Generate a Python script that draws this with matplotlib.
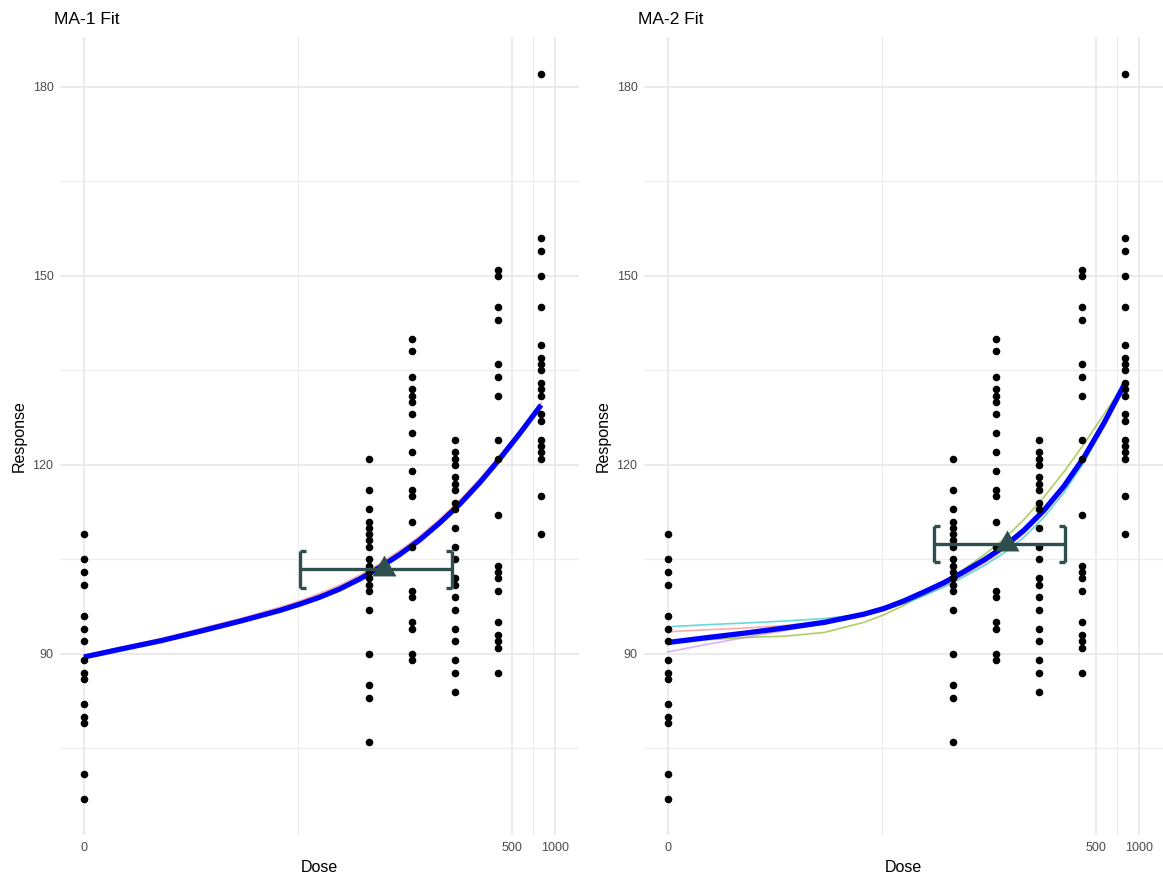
import numpy as np
import matplotlib
matplotlib.use("Agg")
import matplotlib.pyplot as plt
from matplotlib.path import Path

plt.rcParams['font.family'] = ['Liberation Sans', 'DejaVu Sans']

# ---------------- data ----------------
doses = [0, 50, 100, 200, 400, 800]
resp_0 = [109, 105, 103, 101, 96, 94, 92, 89, 87, 86, 82, 80, 79, 71, 67]
resp_50 = [121, 116, 113, 111, 110, 109, 108, 107, 105, 104, 103, 102, 101, 100, 97, 90, 85, 83, 76]
resp_100 = [140, 138, 134, 132, 131, 130, 128, 125, 122, 119, 116, 115, 111, 107, 100, 99, 95, 94, 90, 89]
resp_200 = [124, 122, 121, 120, 118, 117, 116, 114, 113, 110, 107, 105, 102, 101, 99, 97, 94, 92, 89, 87, 84]
resp_400 = [151, 150, 145, 143, 136, 134, 131, 124, 121, 112, 104, 103, 102, 100, 95, 93, 92, 91, 87]
resp_800 = [182, 156, 154, 150, 145, 139, 137, 136, 135, 133, 132, 131, 128, 127, 124, 123, 122, 121, 115, 109]
responses = [resp_0, resp_50, resp_100, resp_200, resp_400, resp_800]

curve_dose = [0, 0.6, 1.6, 3.2, 6.2, 11.8, 16.3, 22.5, 31, 43, 59, 82, 113, 156, 216, 298, 412, 568, 800]

# MA-1 fit
ma1_avg = [89.5, 90.7, 92.1, 93.6, 95.2, 96.9, 97.9, 99.0, 100.3, 101.9, 103.7, 105.8, 108.1,
           110.8, 113.8, 117.2, 121.0, 125.0, 129.5]
ma1_m1 = [89.7, 91.0, 92.4, 94.0, 95.6, 97.4, 98.4, 99.6, 100.9, 102.5, 104.3, 106.4, 108.7,
          111.4, 114.4, 117.8, 121.5, 125.4, 129.8]

# MA-2 fit
ma2_avg = [91.8, 92.5, 93.3, 94.1, 95.0, 96.3, 97.2, 98.4, 99.8, 101.3, 103.0, 104.9, 107.0,
           109.6, 112.8, 116.6, 121.2, 126.6, 133.0]
ma2_cyan = [94.3, 94.6, 94.9, 95.2, 95.6, 96.3, 97.0, 98.0, 99.2, 100.6, 102.2, 104.0, 106.0,
            108.5, 111.7, 115.6, 120.4, 126.1, 133.2]
ma2_red = [93.5, 93.8, 94.1, 94.5, 95.1, 96.1, 96.9, 98.0, 99.3, 100.8, 102.5, 104.4, 106.5,
           109.1, 112.3, 116.2, 120.8, 126.3, 133.0]
ma2_green = [91.6, 92.2, 92.6, 92.8, 93.4, 95.0, 96.2, 97.7, 99.4, 101.3, 103.4, 105.7, 108.2,
             111.3, 114.9, 118.9, 123.3, 128.0, 133.0]
ma2_purple = [90.3, 91.4, 92.6, 93.7, 94.8, 96.2, 97.1, 98.3, 99.7, 101.2, 102.9, 104.8, 106.9,
              109.5, 112.7, 116.5, 121.1, 126.5, 133.0]

# BMD estimates (x = BMD, lower, upper ; y)
bmd1 = dict(x=63.8, lo=16.2, hi=189.0, y=103.4)
bmd2 = dict(x=118.0, lo=36.7, hi=303.0, y=107.4)

titles = ["MA-1 Fit", "MA-2 Fit"]
x_ticks = [0, 500, 1000]
x_tick_labels = ["0", "500", "1000"]
y_ticks = [90, 120, 150, 180]
y_minor = [75, 105, 135, 165]

# ---------------- figure ----------------
W, H = 1163, 880
fig = plt.figure(figsize=(W / 100, H / 100), dpi=100)

ax_w = 518.1 / W
ax_h = 798 / H
ax_b = 45 / H
axes = [fig.add_axes([60.4 / W, ax_b, ax_w, ax_h]),
        fig.add_axes([644.4 / W, ax_b, ax_w, ax_h])]

t_lo, t_hi = -0.38, 7.981
tmaj = np.arcsinh(np.array(x_ticks, float))
x_minor = np.sinh((tmaj[:-1] + tmaj[1:]) / 2)

ebar_col = '#2F4F4F'
tri = Path([(0, 1), (-0.866, -0.5), (0.866, -0.5), (0, 1)],
           [Path.MOVETO, Path.LINETO, Path.LINETO, Path.CLOSEPOLY])
cap_r = Path([(0, 0), (1, 0)], [Path.MOVETO, Path.LINETO])
cap_l = Path([(0, 0), (-1, 0)], [Path.MOVETO, Path.LINETO])


def draw_bmd(ax, b):
    ax.hlines(b['y'], b['lo'], b['hi'], color=ebar_col, lw=2.4, zorder=6)
    ax.vlines([b['lo'], b['hi']], b['y'] - 2.9, b['y'] + 2.9, color=ebar_col, lw=2.4, zorder=6)
    for yy in (b['y'] - 2.9, b['y'] + 2.9):
        ax.plot([b['lo']], [yy], marker=cap_r, ms=8, mew=2.4, color=ebar_col, zorder=6)
        ax.plot([b['hi']], [yy], marker=cap_l, ms=8, mew=2.4, color=ebar_col, zorder=6)
    ax.plot([b['x']], [b['y']], marker=tri, ms=20, color=ebar_col, mew=0, zorder=7)


for i, ax in enumerate(axes):
    ax.set_xscale('asinh', linear_width=1.0)
    ax.set_xlim(np.sinh(t_lo), np.sinh(t_hi))
    ax.set_ylim(61.25, 187.9)
    ax.set_xticks(x_ticks)
    ax.set_xticklabels(x_tick_labels)
    ax.set_xticks(x_minor, minor=True)
    ax.set_xticklabels([], minor=True)
    ax.set_yticks(y_ticks)
    ax.set_yticklabels([str(v) for v in y_ticks])
    ax.set_yticks(y_minor, minor=True)
    ax.grid(which='major', color='#E6E6E6', lw=1.1, zorder=0)
    ax.grid(which='minor', color='#EDEDED', lw=0.9, zorder=0)
    ax.set_axisbelow(True)
    for s in ax.spines.values():
        s.set_visible(False)
    ax.tick_params(which='both', length=0, pad=5, labelsize=9, labelcolor='#4D4D4D')
    ax.set_xlabel('Dose', fontsize=11.5, labelpad=4)
    ax.set_ylabel('Response', fontsize=11.5, labelpad=4)
    ax.set_title(titles[i], loc='left', fontsize=12.5, pad=9, x=-0.013)

    # data points
    for d, r in zip(doses, responses):
        ax.scatter(np.full(len(r), d), r, s=30, c='black', linewidths=0, zorder=4)

# MA-1 curves
a = axes[0]
a.plot(curve_dose, ma1_m1, color='#F8766D', alpha=0.55, lw=1.3, zorder=2)
a.plot(curve_dose, ma1_avg, color='#0000FF', lw=3.8, zorder=3, solid_capstyle='butt')
draw_bmd(a, bmd1)

# MA-2 curves
a = axes[1]
a.plot(curve_dose, ma2_purple, color='#C77CFF', alpha=0.6, lw=1.2, zorder=2)
a.plot(curve_dose, ma2_red, color='#F8766D', alpha=0.6, lw=1.2, zorder=2)
a.plot(curve_dose, ma2_green, color='#7CAE00', alpha=0.6, lw=1.2, zorder=2)
a.plot(curve_dose, ma2_cyan, color='#00BFC4', alpha=0.6, lw=1.2, zorder=2)
a.plot(curve_dose, ma2_avg, color='#0000FF', lw=3.8, zorder=3, solid_capstyle='butt')
draw_bmd(a, bmd2)

fig.savefig('out.png', dpi=100)
